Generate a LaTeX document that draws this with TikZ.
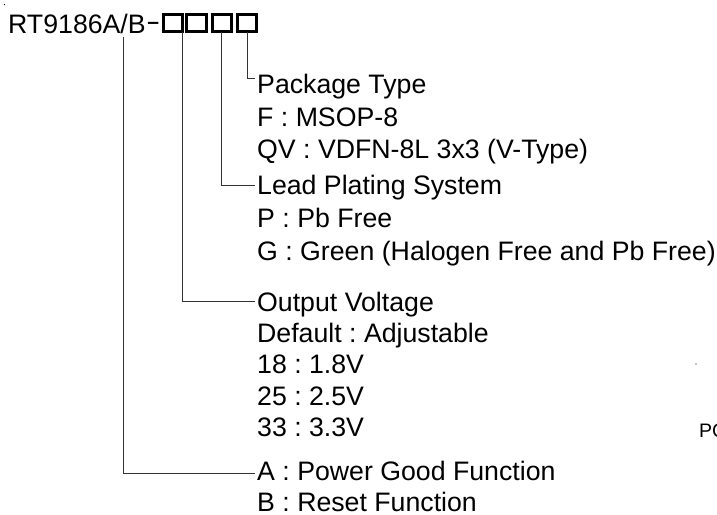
\documentclass[tikz,border=0pt]{standalone}
\usepackage{fontspec}
\setmainfont{Liberation Sans}
\frenchspacing
\begin{document}
\begin{tikzpicture}[x=1pt,y=-1pt,
  lbl/.style={anchor=base west,inner sep=0pt,font=\fontsize{26.7}{30}\selectfont\frenchspacing},
  small/.style={anchor=base west,inner sep=0pt,font=\fontsize{19.5}{22}\selectfont},
  conn/.style={line width=0.9pt,draw=black!80},
  digitbox/.style={draw,line width=3pt,minimum width=19.3pt,minimum height=17pt,inner sep=0pt,outer sep=0pt}]
\clip (0,0) rectangle (717,514);
\useasboundingbox (0,0) rectangle (717,514);
% title
\node[lbl] (title) at (8,33) {RT9186A/B\kern0.5pt\raisebox{2pt}{\scalebox{1.6}[1]{-}}};
\node[digitbox] (b1) at (172.9,23.3) {};
\node[digitbox] (b2) at (196.6,23.3) {};
\node[digitbox] (b3) at (221.7,23.3) {};
\node[digitbox] (b4) at (247.3,23.3) {};
% labels
\node[lbl] (pkg) at (257,93) {Package Type};
\node[lbl] (pkgF) at (257,126) {F : MSOP-8};
\node[lbl] (pkgQV) at (257,158) {QV : VDFN-8L 3x3 (V-Type)};
\node[lbl] (lead) at (257,194) {Lead Plating System};
\node[lbl] (leadP) at (257,227) {P : Pb Free};
\node[lbl] (leadG) at (257,260) {G : Green (Halogen Free and Pb Free)};
\node[lbl] (out) at (257,311) {Output Voltage};
\node[lbl] (outD) at (257,342) {Default : Adjustable};
\node[lbl] (out18) at (257,373) {18 : 1.8V};
\node[lbl] (out25) at (257,405) {25 : 2.5V};
\node[lbl] (out33) at (257,436) {33 : 3.3V};
\node[lbl] (funA) at (257,480) {A : Power Good Function};
\node[lbl] (funB) at (257,511) {B : Reset Function};
\node[small] (pc) at (699,437) {PC};
% connector end points
\coordinate (c1) at (123,37);
\coordinate (e4) at (255,78);
\coordinate (e3) at (255,185);
\coordinate (e2) at (255,301);
\coordinate (e1) at (255,473);
\draw[conn] (b4.south) |- (e4);
\draw[conn] (b3.south) |- (e3);
\draw[conn] (b1.south east) |- (e2);
\draw[conn] (c1) |- (e1);
% stray dots
\fill (4.5,4.5) circle (0.6);
\fill (696,364) circle (0.7);
\end{tikzpicture}
\end{document}
